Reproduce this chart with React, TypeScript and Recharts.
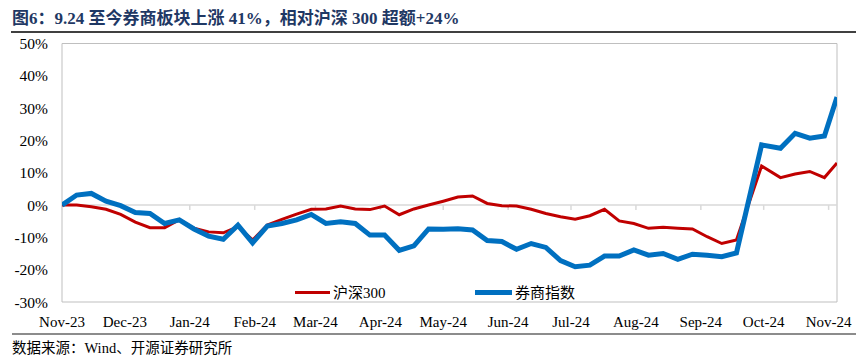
import React from 'react';
import { LineChart, Line, XAxis, YAxis, ReferenceLine, ReferenceArea, Legend } from 'recharts';

const dates = [
  '2023-11-01', '2023-11-08', '2023-11-15', '2023-11-22', '2023-11-29',
  '2023-12-06', '2023-12-13', '2023-12-20', '2023-12-27',
  '2024-01-03', '2024-01-10', '2024-01-17', '2024-01-24', '2024-01-31',
  '2024-02-07', '2024-02-14', '2024-02-21', '2024-02-28',
  '2024-03-06', '2024-03-13', '2024-03-20', '2024-03-27',
  '2024-04-03', '2024-04-10', '2024-04-17', '2024-04-24',
  '2024-05-01', '2024-05-08', '2024-05-15', '2024-05-22', '2024-05-29',
  '2024-06-05', '2024-06-12', '2024-06-19', '2024-06-26',
  '2024-07-03', '2024-07-10', '2024-07-17', '2024-07-24', '2024-07-31',
  '2024-08-07', '2024-08-14', '2024-08-21', '2024-08-28',
  '2024-09-04', '2024-09-11', '2024-09-18', '2024-09-30',
  '2024-10-09', '2024-10-16', '2024-10-23', '2024-10-30', '2024-11-05',
];

// 沪深300 cumulative return (%)
const hs300 = [
  0, 0, -0.5, -1.3, -2.9, -5.3, -7.0, -7.0, -4.5,
  -7.2, -8.3, -8.6, -6.7, -10.8,
  -6.2, -4.4, -2.8, -1.3,
  -1.2, -0.3, -1.2, -1.4,
  -0.3, -3.0, -1.2, 0,
  1.2, 2.5, 2.8, 0.5, -0.2,
  -0.3, -1.3, -2.6, -3.6,
  -4.4, -3.3, -1.3, -4.9, -5.7,
  -7.2, -6.9, -7.2, -7.4,
  -9.8, -11.9, -10.8, 12.1,
  8.5, 9.6, 10.4, 8.5, 13.0,
];

// 券商指数 cumulative return (%)
const brokers = [
  0, 3.1, 3.6, 1.2, -0.2, -2.3, -2.6, -5.7, -4.6,
  -7.4, -9.6, -10.6, -6.2, -11.7,
  -6.5, -5.7, -4.6, -2.9,
  -5.7, -5.2, -5.7, -9.3,
  -9.3, -14.0, -12.6, -7.4,
  -7.5, -7.3, -7.7, -11.0, -11.3,
  -13.7, -11.9, -13.1, -17.2,
  -19.1, -18.6, -15.8, -15.8, -13.9,
  -15.5, -15.0, -16.8, -15.2,
  -15.5, -16.0, -14.8, 18.6,
  17.6, 22.2, 20.7, 21.4, 33.4,
];

const yTicks = [-30, -20, -10, 0, 10, 20, 30, 40, 50];
const monthTicks = [
  '2023-11-01', '2023-12-01', '2024-01-01', '2024-02-01', '2024-03-01', '2024-04-01', '2024-05-01',
  '2024-06-01', '2024-07-01', '2024-08-01', '2024-09-01', '2024-10-01', '2024-11-01',
];
const monthLabels = [
  'Nov-23', 'Dec-23', 'Jan-24', 'Feb-24', 'Mar-24', 'Apr-24', 'May-24',
  'Jun-24', 'Jul-24', 'Aug-24', 'Sep-24', 'Oct-24', 'Nov-24',
];
const domainStart = '2023-11-01';
const domainEnd = '2024-11-05';

const seriesNames = { hs: '沪深300', br: '券商指数' };

const toDay = (s: string) =>
  Date.UTC(Number(s.slice(0, 4)), Number(s.slice(5, 7)) - 1, Number(s.slice(8, 10))) / 86400000;

const data = dates.map((d, i) => ({ t: toDay(d), hs: hs300[i], br: brokers[i] }));
const tickDays = monthTicks.map(toDay);

const RED = '#C00000';
const BLUE = '#0070C0';
const SERIF = '"Liberation Serif", "Times New Roman", "Noto Sans CJK SC", serif';

const LegendContent = () => (
  <div style={{ position: 'relative', width: 320, height: 20, fontFamily: SERIF, fontSize: 15, color: '#000' }}>
    <div style={{ position: 'absolute', left: 5, top: 8, width: 35, height: 3, background: RED }} />
    <div style={{ position: 'absolute', left: 43, top: 0, lineHeight: '20px', whiteSpace: 'nowrap' }}>{seriesNames.hs}</div>
    <div style={{ position: 'absolute', left: 185, top: 7, width: 37, height: 5, background: BLUE }} />
    <div style={{ position: 'absolute', left: 225, top: 0, lineHeight: '20px', whiteSpace: 'nowrap' }}>{seriesNames.br}</div>
  </div>
);

export default function App() {
  return (
    <div style={{ position: 'relative', width: 856, height: 361, background: '#fff', overflow: 'hidden' }}>
      <style>{`body{margin:0;}`}</style>
      <div
        style={{
          position: 'absolute', left: 12, top: 10, fontSize: 17, lineHeight: '18px', fontWeight: 'bold',
          color: '#1F3864', fontFamily: SERIF, whiteSpace: 'nowrap',
        }}
      >
        图6：9.24 至今券商板块上涨 41%，相对沪深 300 超额+24%
      </div>
      <div style={{ position: 'absolute', left: 11, top: 31, width: 845, height: 1.5, background: '#404040' }} />
      <div style={{ position: 'absolute', left: 12, top: 333, width: 844, height: 2, background: '#8C8C8C' }} />
      <div
        style={{
          position: 'absolute', left: 12, top: 340, fontSize: 14.5, lineHeight: '16px', color: '#000',
          fontFamily: SERIF, whiteSpace: 'nowrap',
        }}
      >
        数据来源：Wind、开源证券研究所
      </div>
      <div style={{ position: 'absolute', left: 0, top: 0 }}>
        <LineChart width={856} height={361} data={data} margin={{ top: 43.5, right: 19, bottom: 29, left: 0 }}>
          <ReferenceArea
            x1={toDay(domainStart)} x2={toDay(domainEnd)} y1={-30} y2={50}
            fill="none" stroke="#BFBFBF" strokeWidth={1} ifOverflow="visible"
          />
          <ReferenceLine y={0} stroke="#D9D9D9" strokeWidth={1.5} />
          {tickDays.map((d) => (
            <ReferenceLine
              key={d}
              segment={[{ x: d, y: 0 }, { x: d, y: -1.5 }]}
              stroke="#D9D9D9" strokeWidth={1.5} ifOverflow="visible"
            />
          ))}
          <XAxis
            dataKey="t" type="number" domain={[toDay(domainStart), toDay(domainEnd)]}
            ticks={tickDays} tickFormatter={(v: number) => monthLabels[tickDays.indexOf(v)]}
            axisLine={false} tickLine={false} tickSize={0} tickMargin={14} height={30}
            interval={0} allowDataOverflow
            tick={{ fill: '#000', fontSize: 15, fontFamily: SERIF }}
          />
          <YAxis
            type="number" domain={[-30, 50]} ticks={yTicks} width={62}
            tickFormatter={(v: number) => `${v}%`}
            axisLine={false} tickLine={false} tickSize={0} tickMargin={14} interval={0}
            tick={{ fill: '#000', fontSize: 15.5, fontFamily: SERIF }}
          />
          <Legend
            layout="horizontal" verticalAlign="middle" align="center"
            wrapperStyle={{ position: 'absolute', left: 290, top: 283, width: 320, height: 20 }}
            content={() => <LegendContent />}
          />
          <Line
            type="linear" dataKey="hs" name={seriesNames.hs} stroke={RED} strokeWidth={3}
            dot={false} activeDot={false} isAnimationActive={false}
          />
          <Line
            type="linear" dataKey="br" name={seriesNames.br} stroke={BLUE} strokeWidth={5}
            dot={false} activeDot={false} isAnimationActive={false}
          />
        </LineChart>
      </div>
    </div>
  );
}
